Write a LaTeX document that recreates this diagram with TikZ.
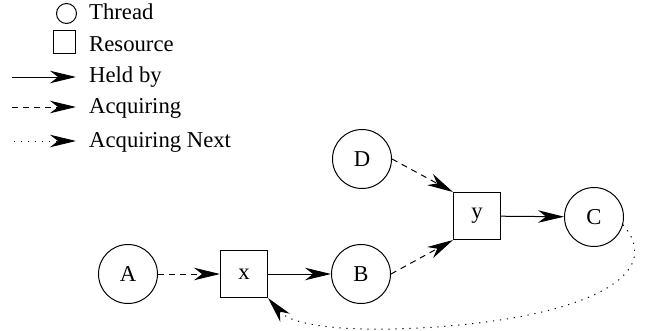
\documentclass[tikz,border=0pt]{standalone}
\usepackage{fontspec}
\setmainfont{Liberation Serif}
\usetikzlibrary{arrows.meta}
\begin{document}
\begin{tikzpicture}[x=1pt,y=-1pt,
  every node/.style={font=\fontsize{22.7}{27}\selectfont, text=black},
  thread/.style={draw, circle, minimum size=59pt, inner sep=0pt, line width=1pt},
  resource/.style={draw, rectangle, minimum size=47pt, inner sep=0pt, line width=1pt},
  conn/.style={line width=1pt, -{Stealth[length=26pt,width=12.5pt,inset=8pt]}},
  held/.style={conn},
  acq/.style={conn, dash pattern=on 6pt off 5pt},
  acqnext/.style={conn, dash pattern=on 1.2pt off 5.8pt},
  lab/.style={anchor=base west, inner sep=0pt}]
\useasboundingbox (0,0) rectangle (651,330);
% legend
\node[draw, circle, minimum size=20pt, inner sep=0pt, line width=1pt] (lt) at (66.5,13.5) {};
\node[lab] (ltt) at (89,19) {Thread};
\node[draw, rectangle, minimum size=22.5pt, inner sep=0pt, line width=1pt] (lr) at (64.5,42) {};
\node[lab] (lrt) at (89,51) {Resource};
\coordinate (h1) at (12,77); \coordinate (h2) at (76,77);
\draw[held] (h1) -- (h2);
\node[lab] (lht) at (89,82) {Held by};
\coordinate (a1) at (12,107); \coordinate (a2) at (76,107);
\draw[acq] (a1) -- (a2);
\node[lab] (lat) at (89,113) {Acquiring};
\coordinate (n1) at (14,141); \coordinate (n2) at (76,141);
\draw[acqnext] (n1) -- (n2);
\node[lab] (lnt) at (89,147) {Acquiring Next};
% diagram
\node[thread] (A) at (128,274) {A};
\node[resource] (x) at (244,274) {x};
\node[thread] (B) at (361,274) {B};
\node[thread] (D) at (362,159) {D};
\node[resource] (y) at (477,216) {y};
\node[thread] (C) at (594,217) {C};
\draw[acq] (A) -- (x);
\draw[held] (x) -- (B);
\draw[acq] (D.east) -- (y.north west);
\draw[acq] (B.east) -- (y.south west);
\draw[held] (y) -- (C);
\draw[acqnext] (C.-15) .. controls (662,270) and (600,305) .. (500,320)
  .. controls (420,332) and (300,335) .. (x.south east);
\end{tikzpicture}
\end{document}
